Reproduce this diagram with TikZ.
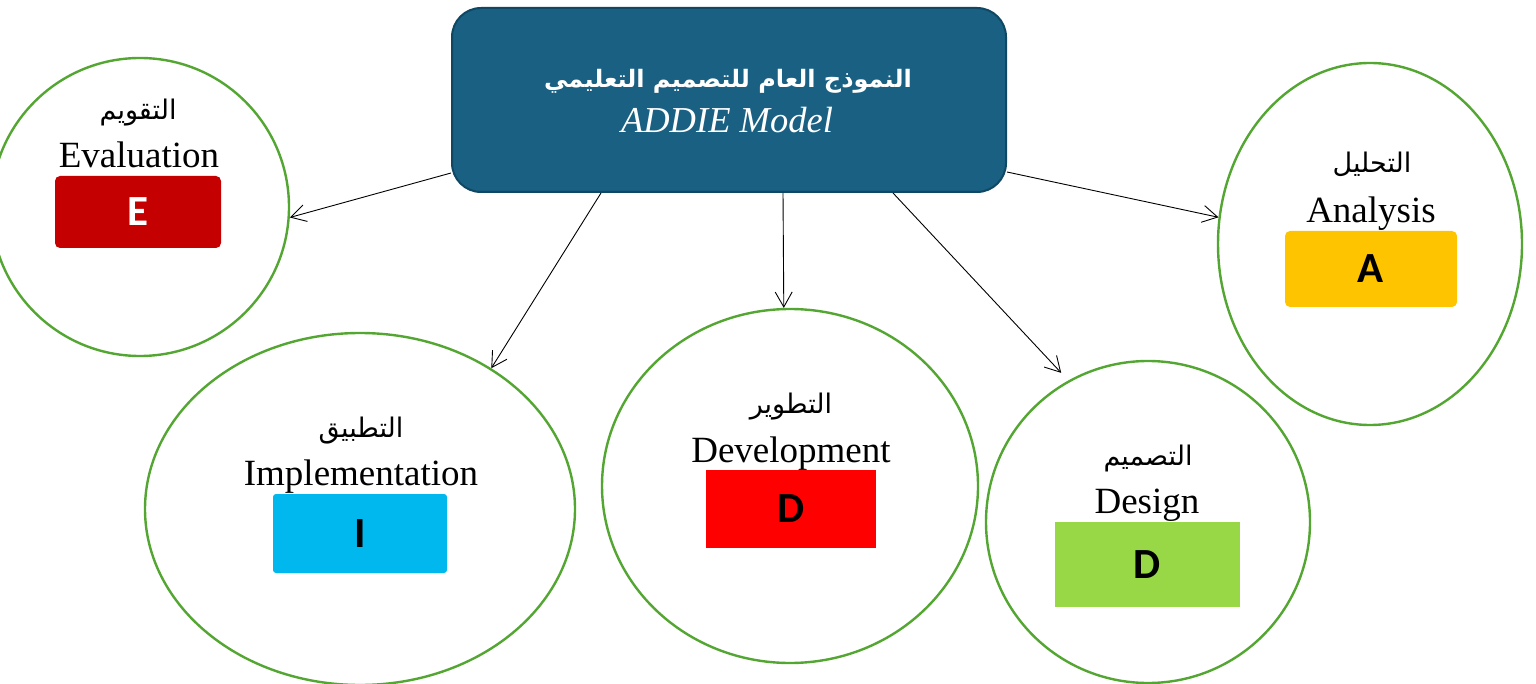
\documentclass[tikz,border=0pt]{standalone}
\usepackage{fontspec}
\setmainfont{Liberation Serif}
\newfontfamily\arabicfont[Script=Arabic]{DejaVu Sans}
\newfontfamily\letterfont{Carlito}
\TeXXeTstate=1
\usetikzlibrary{shapes.geometric,arrows.meta,calc}
\definecolor{boxblue}{RGB}{25,96,130}
\definecolor{boxedge}{RGB}{16,72,100}
\definecolor{ringgreen}{RGB}{84,166,50}
\definecolor{eRed}{RGB}{196,0,0}
\definecolor{aYellow}{RGB}{255,196,0}
\definecolor{iBlue}{RGB}{0,184,238}
\definecolor{dRed}{RGB}{255,0,0}
\definecolor{dGreen}{RGB}{152,216,70}
\tikzset{
  x=1pt, y=-1pt,
  ring/.style={ellipse, draw=ringgreen, line width=2.4pt, fill=white, inner sep=0pt},
  artext/.style={anchor=base, inner sep=0pt, font=\arabicfont\fontsize{27}{32}\selectfont},
  entext/.style={anchor=base, inner sep=0pt, font=\fontsize{37}{44}\selectfont},
  letterbox/.style={inner sep=0pt, text=black, font=\letterfont\bfseries\fontsize{43}{48}\selectfont},
  arr/.style={draw=black, line width=0.9pt, -{Straight Barb[length=15pt,width=17pt,line width=0.9pt]}},
}
\begin{document}
\begin{tikzpicture}
\useasboundingbox (0,0) rectangle (1536,684);
% central box
\node[draw=boxedge, line width=2pt, fill=boxblue, rounded corners=29pt,
      minimum width=554pt, minimum height=184pt, inner sep=0pt] (box) at (729,100) {};
\node[anchor=base, inner sep=0pt, text=white, font=\arabicfont\bfseries\fontsize{24}{30}\selectfont] (title) at (728,88) {\beginR النموذج العام للتصميم التعليمي\endR};
\node[anchor=base, inner sep=0pt, text=white, font=\itshape\fontsize{36.5}{42}\selectfont] (addie) at (727,133) {ADDIE Model};
% ellipses
\node[ring, minimum width=298pt, minimum height=298pt] (eval) at (140,207) {};
\node[ring, minimum width=304pt, minimum height=362pt] (anal) at (1370,244) {};
\node[ring, minimum width=430pt, minimum height=352pt] (impl) at (360,509) {};
\node[ring, minimum width=376pt, minimum height=354pt] (dev) at (790,486) {};
\node[ring, minimum width=324pt, minimum height=322pt] (des) at (1148,522) {};
% Evaluation
\node[artext] (evalar) at (138,120) {\beginR التقويم\endR};
\node[entext] (evalen) at (139,168) {Evaluation};
\node[letterbox, fill=eRed, text=white, rounded corners=5pt, minimum width=166pt, minimum height=72pt] (evalbox) at (138,212) {E};
% Analysis
\node[artext] (analar) at (1372,173) {\beginR التحليل\endR};
\node[entext] (analen) at (1371,223) {Analysis};
\node[letterbox, fill=aYellow, rounded corners=5pt, minimum width=172pt, minimum height=76pt] (analbox) at (1371,269) {A};
% Implementation
\node[artext] (implar) at (361,437) {\beginR التطبيق\endR};
\node[entext] (implen) at (361,485) {Implementation};
\node[letterbox, fill=iBlue, rounded corners=3pt, minimum width=174pt, minimum height=79pt] (implbox) at (360,533.5) {I};
% Development
\node[artext] (devar) at (791,413) {\beginR التطوير\endR};
\node[entext] (deven) at (791,462) {Development};
\node[letterbox, fill=dRed, minimum width=170pt, minimum height=78pt] (devbox) at (791,509) {D};
% Design
\node[artext] (desar) at (1148,465) {\beginR التصميم\endR};
\node[entext] (desen) at (1147,513) {Design};
\node[letterbox, fill=dGreen, minimum width=185pt, minimum height=85pt] (desbox) at (1147.5,564.5) {D};
% connectors
\draw[arr] ([yshift=20pt]box.south west) -- (eval.-4);
\draw[arr] ([xshift=150pt]box.south west) -- (impl.47);
\draw[arr] ([xshift=332pt]box.south west) -- (dev.92);
\draw[arr] ([xshift=442pt]box.south west) -- ($(des.118)!12pt!(box.south)$);
\draw[arr] ([yshift=21pt]box.south east) -- (anal.170.5);
\end{tikzpicture}
\end{document}
